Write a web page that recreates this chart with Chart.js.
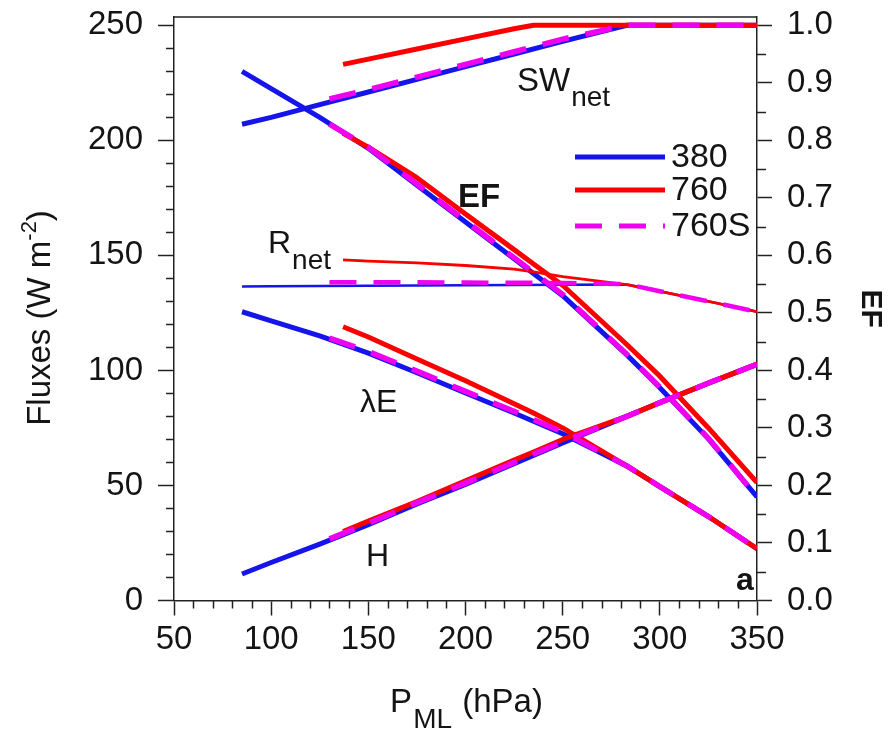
<!DOCTYPE html>
<html>
<head>
<meta charset="utf-8">
<script src="https://cdn.jsdelivr.net/npm/chart.js@4.4.1/dist/chart.umd.min.js"></script>
<style>
  html, body { margin: 0; padding: 0; background: #ffffff; }
  #wrap { width: 893px; height: 731px; }
</style>
</head>
<body>
<div id="wrap"><canvas id="c" width="893" height="731"></canvas></div>
<script>
// Mixed-layer pressure (hPa) sampled for each run
const P380  = [85, 100, 125, 150, 175, 200, 225, 250, 283, 300, 325, 350];
const P760  = [137, 150, 175, 200, 225, 235, 250, 283, 300, 325, 350];
const P760S = [130, 150, 175, 200, 225, 250, 283, 300, 325, 350];

// Net shortwave radiation (W m-2)
const SW380  = [207, 210, 215.5, 221, 226.5, 232, 237.5, 243, 250, 250, 250, 250];
const SW760  = [233, 235.3, 239.7, 244.1, 248.5, 250, 250, 250, 250, 250, 250];
const SW760S = [218, 222, 227.5, 233, 238.5, 244, 250, 250, 250, 250];

// Net radiation (W m-2)
const RN380  = [136.5, 136.6, 136.7, 136.8, 136.9, 137, 137.1, 137.2, 137.3, 134.4, 130, 125.5];
const RN760  = [148, 147.5, 146.7, 145.6, 144, 142.8, 140.8, 137.3, 134.4, 130, 125.5];
const RN760S = [138.3, 138.3, 138.3, 138.2, 138.1, 138, 137.5, 134.4, 130, 125.5];

// Latent heat flux (W m-2)
const LE380  = [125.5, 121.5, 115, 107.5, 99, 90.2, 81.5, 72.5, 58.5, 49.5, 36.5, 22.5];
const LE760  = [119, 114.5, 105, 95.5, 85.5, 81.5, 75, 58.5, 49.5, 36.5, 22.5];
const LE760S = [114, 108.2, 99.7, 90.9, 82.2, 73.2, 58.5, 49.5, 36.5, 22.5];

// Sensible heat flux (W m-2)
const H380  = [11.5, 16.5, 24.5, 33, 42, 50.5, 59.5, 68.5, 80, 86, 94.5, 102.7];
const H760  = [30, 34.5, 43, 52, 61, 64.5, 70, 80, 86, 94.5, 102.7];
const H760S = [26.8, 33.5, 42.5, 51, 60, 69, 80, 86, 94.5, 102.7];

// Evaporative fraction (right axis)
const EF380  = [0.92, 0.89, 0.84, 0.786, 0.722, 0.658, 0.594, 0.53, 0.427, 0.37, 0.281, 0.18];
const EF760  = [0.812, 0.788, 0.735, 0.672, 0.61, 0.585, 0.548, 0.445, 0.39, 0.30, 0.205];
const EF760S = [0.828, 0.788, 0.724, 0.66, 0.596, 0.532, 0.428, 0.371, 0.282, 0.18];

// Run names and tick labels
const runNames = ['380', '760', '760S'];
const pTicks = [50, 100, 150, 200, 250, 300, 350];
const fluxTicks = [0, 50, 100, 150, 200, 250];
const efTicks = [0.0, 0.1, 0.2, 0.3, 0.4, 0.5, 0.6, 0.7, 0.8, 0.9, 1.0];

const BLUE = 'rgb(20,20,235)';
const RED = 'rgb(250,0,0)';
const MAGENTA = 'rgb(240,0,240)';
const DASH = [27, 17];
const FONT = "'Liberation Sans', Arial, sans-serif";
const INK = '#141414';

const pts = (xs, ys) => xs.map((x, i) => ({ x: x, y: ys[i] }));

const runStyle = [
  { color: BLUE, dash: [], order: 3, thick: 5, thin: 2.5 },
  { color: RED, dash: [], order: 2, thick: 5, thin: 2.8 },
  { color: MAGENTA, dash: DASH, order: 1, thick: 5.5, thin: 4.5 }
];
const runP = [P380, P760, P760S];
const quantities = [
  { name: 'SWnet', axis: 'y', data: [SW380, SW760, SW760S], thin: false },
  { name: 'Rnet', axis: 'y', data: [RN380, RN760, RN760S], thin: true },
  { name: 'lE', axis: 'y', data: [LE380, LE760, LE760S], thin: false },
  { name: 'H', axis: 'y', data: [H380, H760, H760S], thin: false },
  { name: 'EF', axis: 'y2', data: [EF380, EF760, EF760S], thin: false }
];

const datasets = [];
quantities.forEach(q => {
  q.data.forEach((vals, r) => {
    const s = runStyle[r];
    datasets.push({
      label: q.name + ' ' + runNames[r],
      data: pts(runP[r], vals),
      yAxisID: q.axis,
      borderColor: s.color,
      backgroundColor: s.color,
      borderWidth: q.thin ? s.thin : s.thick,
      borderDash: s.dash,
      borderCapStyle: 'butt',
      borderJoinStyle: 'round',
      pointRadius: 0,
      pointHoverRadius: 0,
      tension: 0,
      fill: false,
      order: s.order
    });
  });
});

const pMinor = [];
for (let v = 60; v < 350; v += 10) if (v % 50 !== 0) pMinor.push(v);
const fluxMinor = [];
for (let v = 10; v < 250; v += 10) if (v % 50 !== 0) fluxMinor.push(v);
const efMinor = [];
for (let i = 0; i < 10; i++) efMinor.push(i / 10 + 0.05);

// White page, top frame line and the short minor ticks on all three axes
const framePlugin = {
  id: 'framePlugin',
  beforeDraw(chart) {
    const ctx = chart.ctx;
    ctx.save();
    ctx.fillStyle = '#ffffff';
    ctx.fillRect(0, 0, chart.width, chart.height);
    ctx.restore();
  },
  afterDraw(chart) {
    const { ctx, chartArea: a, scales } = chart;
    ctx.save();
    ctx.strokeStyle = '#222';
    ctx.lineWidth = 1.5;
    ctx.beginPath();
    ctx.moveTo(a.left, a.top);
    ctx.lineTo(a.right, a.top);
    pMinor.forEach(v => {
      const px = Math.round(scales.x.getPixelForValue(v)) + 0.5;
      ctx.moveTo(px, a.bottom);
      ctx.lineTo(px, a.bottom + 8);
    });
    fluxMinor.forEach(v => {
      const py = Math.round(scales.y.getPixelForValue(v)) + 0.5;
      ctx.moveTo(a.left, py);
      ctx.lineTo(a.left - 8, py);
    });
    efMinor.forEach(v => {
      const py = Math.round(scales.y2.getPixelForValue(v)) + 0.5;
      ctx.moveTo(a.right, py);
      ctx.lineTo(a.right + 9, py);
    });
    ctx.stroke();
    ctx.restore();
  }
};

function textWithSub(ctx, x, y, main, sub, mainFont, subFont, dy) {
  ctx.font = mainFont;
  ctx.fillText(main, x, y);
  const w = ctx.measureText(main).width;
  ctx.font = subFont;
  ctx.fillText(sub, x + w + 1, y + dy);
}

// Axis titles, curve labels and the legend
const labelPlugin = {
  id: 'labelPlugin',
  afterDraw(chart) {
    const { ctx, chartArea: a } = chart;
    ctx.save();
    ctx.fillStyle = INK;
    ctx.textBaseline = 'alphabetic';
    ctx.textAlign = 'left';

    // left title: Fluxes (W m-2)
    ctx.save();
    ctx.translate(50, 318);
    ctx.rotate(-Math.PI / 2);
    const f1 = '33px ' + FONT, f2 = '22px ' + FONT;
    ctx.font = f1;
    const wA = ctx.measureText('Fluxes (W m').width;
    const wC = ctx.measureText(')').width;
    ctx.font = f2;
    const wB = ctx.measureText('-2').width;
    let x0 = -(wA + wB + wC) / 2;
    ctx.font = f1; ctx.fillText('Fluxes (W m', x0, 0);
    ctx.font = f2; ctx.fillText('-2', x0 + wA, -14);
    ctx.font = f1; ctx.fillText(')', x0 + wA + wB, 0);
    ctx.restore();

    // bottom title: P_ML (hPa)
    ctx.font = '33px ' + FONT;
    const wP = ctx.measureText('P').width;
    const wRest = ctx.measureText(' (hPa)').width;
    ctx.font = '28px ' + FONT;
    const wML = ctx.measureText('ML').width;
    const bx = (a.left + a.right) / 2 - (wP + wML + wRest) / 2;
    ctx.font = '33px ' + FONT; ctx.fillText('P', bx, 712);
    ctx.font = '28px ' + FONT; ctx.fillText('ML', bx + wP + 1, 728);
    ctx.font = '33px ' + FONT; ctx.fillText(' (hPa)', bx + wP + wML + 2, 712);

    // curve labels
    textWithSub(ctx, 517, 91, 'SW', 'net', '33px ' + FONT, '28px ' + FONT, 15);
    textWithSub(ctx, 268, 253, 'R', 'net', '32px ' + FONT, '28px ' + FONT, 16);
    ctx.font = 'bold 33px ' + FONT; ctx.fillText('EF', 458, 207);
    ctx.font = '32px ' + FONT; ctx.fillText('\u03BBE', 360, 412);
    ctx.font = '32px ' + FONT; ctx.fillText('H', 366, 566);
    ctx.font = 'bold 32px ' + FONT; ctx.fillText('a', 736, 590);

    // legend
    const legendY = [157, 190, 226];
    runNames.forEach((name, r) => {
      const s = runStyle[r];
      ctx.save();
      ctx.strokeStyle = s.color;
      ctx.lineWidth = 5;
      ctx.lineCap = 'butt';
      ctx.setLineDash(s.dash);
      ctx.beginPath();
      ctx.moveTo(575, legendY[r]);
      ctx.lineTo(665, legendY[r]);
      ctx.stroke();
      ctx.restore();
      ctx.font = '34px ' + FONT;
      ctx.textBaseline = 'middle';
      ctx.fillText(name, 671, legendY[r] + 1);
      ctx.textBaseline = 'alphabetic';
    });
    ctx.restore();
  }
};

const tickFont = { family: FONT, size: 33 };
const noVPad = s => { s.paddingTop = 0; s.paddingBottom = 0; };

new Chart(document.getElementById('c'), {
  type: 'line',
  data: { datasets: datasets },
  options: {
    responsive: false,
    devicePixelRatio: 1,
    animation: false,
    layout: { padding: { top: 17, left: 0, right: 0, bottom: 0 } },
    plugins: { legend: { display: false }, tooltip: { enabled: false }, title: { display: false } },
    scales: {
      x: {
        type: 'linear', min: 50, max: 350,
        afterBuildTicks: s => { s.ticks = pTicks.map(v => ({ value: v })); },
        afterFit: s => { s.height = 130.5; s.paddingLeft = 0; s.paddingRight = 0; },
        ticks: { font: tickFont, color: INK, padding: 5, maxRotation: 0, autoSkip: false, callback: v => String(v) },
        grid: { drawOnChartArea: false, drawTicks: true, tickLength: 15, tickWidth: 1.5, tickColor: '#222' },
        border: { display: true, color: '#222', width: 1.5 }
      },
      y: {
        type: 'linear', position: 'left', min: 0, max: 253.6,
        afterBuildTicks: s => { s.ticks = fluxTicks.map(v => ({ value: v })); },
        afterFit: s => { s.width = 174; noVPad(s); },
        ticks: { font: tickFont, color: INK, padding: 15, callback: v => String(v) },
        grid: { drawOnChartArea: false, drawTicks: true, tickLength: 16, tickWidth: 1.5, tickColor: '#222' },
        border: { display: true, color: '#222', width: 1.5 }
      },
      y2: {
        type: 'linear', position: 'right', min: 0, max: 253.6 / 250,
        afterBuildTicks: s => { s.ticks = efTicks.map(v => ({ value: v })); },
        afterFit: s => { s.width = 136; noVPad(s); },
        ticks: { font: tickFont, color: INK, padding: 15, callback: v => v.toFixed(1) },
        grid: { drawOnChartArea: false, drawTicks: true, tickLength: 15, tickWidth: 1.5, tickColor: '#222' },
        border: { display: true, color: '#222', width: 1.5 },
        title: { display: true, text: 'EF', color: INK, font: { family: FONT, size: 30, weight: 'bold' }, padding: { top: 5, bottom: 0 } }
      }
    }
  },
  plugins: [framePlugin, labelPlugin]
});
</script>
</body>
</html>
